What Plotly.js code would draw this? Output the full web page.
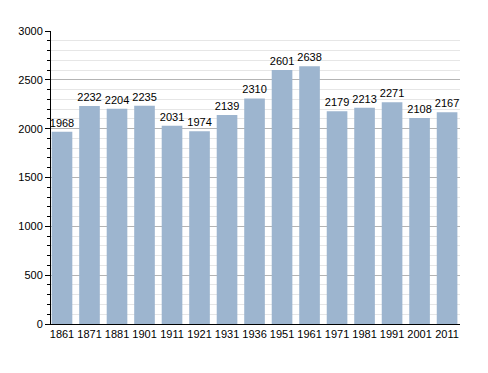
<!DOCTYPE html>
<html><head><meta charset="utf-8">
<script src="https://cdn.plot.ly/plotly-3.0.1.min.js"></script>
<style>body{margin:0;background:#fff}#c{width:488px;height:373px}</style>
</head><body><div id="c"></div>
<script>
const years = ["1861","1871","1881","1901","1911","1921","1931","1936","1951","1961","1971","1981","1991","2001","2011"];
const population = [1968,2232,2204,2235,2031,1974,2139,2310,2601,2638,2179,2213,2271,2108,2167];

Plotly.newPlot('c', [{
  type: 'bar', x: years, y: population,
  marker: {color: '#9db5cf'},
  text: population.map(String), textposition: 'outside', cliponaxis: false, constraintext: 'none',
  textfont: {family: 'Liberation Sans, Arial, sans-serif', size: 11, color: '#000'},
  hoverinfo: 'none'
}], {
  width: 488, height: 373,
  margin: {l: 51, r: 28, t: 31, b: 49},
  paper_bgcolor: '#fff', plot_bgcolor: '#fff',
  bargap: 0.25, showlegend: false,
  font: {family: 'Liberation Sans, Arial, sans-serif', size: 11, color: '#000'},
  xaxis: {type: 'category', range: [-0.4, 14.47], showline: true, linecolor: '#000', linewidth: 1, ticks: '', showgrid: false, tickfont: {size: 11}},
  yaxis: {range: [0, 3000], dtick: 500, tick0: 0, showline: true, linecolor: '#000', linewidth: 1,
    ticks: 'outside', ticklen: 5, tickcolor: '#000', gridcolor: '#b4b4b4', gridwidth: 1, zeroline: false,
    tickfont: {size: 11},
    minor: {dtick: 100, ticks: 'outside', ticklen: 3, tickcolor: '#000', showgrid: true, gridcolor: '#e6e6e6', gridwidth: 1}}
}, {staticPlot: true});
</script></body></html>
